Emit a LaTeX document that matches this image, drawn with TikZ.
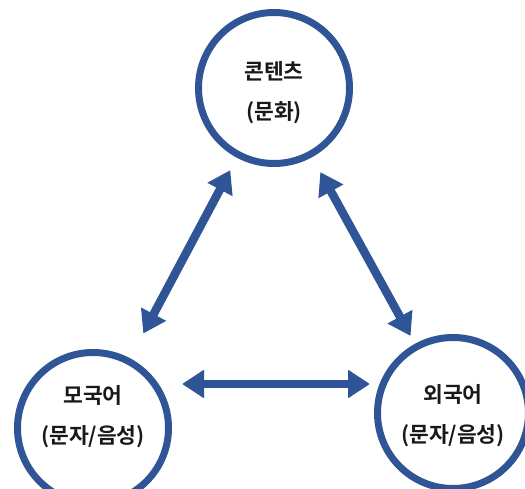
\documentclass[tikz,border=0pt]{standalone}
\usepackage{fontspec}
\setmainfont{Noto Sans CJK KR}[BoldFont={Noto Sans CJK KR Bold}]
\usetikzlibrary{arrows.meta,calc}
\definecolor{dblue}{RGB}{47,85,151}
\definecolor{txt}{RGB}{25,25,25}
\tikzset{
  ring/.style={circle,draw=dblue,line width=7pt,minimum size=151pt,inner sep=0pt},
  lbl/.style={align=center,text=txt,font=\fontsize{21.5pt}{40pt}\selectfont\bfseries},
  arr/.style={draw=dblue,line width=8.5pt,
    {Triangle[length=22pt,width=27pt]}-{Triangle[length=22pt,width=27pt]}}
}
\begin{document}
\begin{tikzpicture}[x=1pt,y=1pt]
\useasboundingbox (0,0) rectangle (525,488);
\node[ring] (top) at (274,400) {};
\node[ring] (left) at (93,60) {};
\node[ring] (right) at (453,75) {};
\node[lbl] (tt) at ([yshift=-5pt]top.center) {콘텐츠\\(문화)};
\node[lbl] (lt) at ([yshift=11pt]left.center) {모국어\\(문자/음성)};
\node[lbl] (rt) at ([yshift=-3pt]right.center) {외국어\\(문자/음성)};
\draw[arr] ($(top)!93pt!(left)$) -- ($(left)!107pt!(top)$);
\draw[arr] ($(top)!96pt!(right)$) -- ($(right)!88pt!(top)$);
\draw[arr] ([shift={(89pt,44pt)}]left.center) -- ([shift={(-83pt,29pt)}]right.center);
\end{tikzpicture}
\end{document}
